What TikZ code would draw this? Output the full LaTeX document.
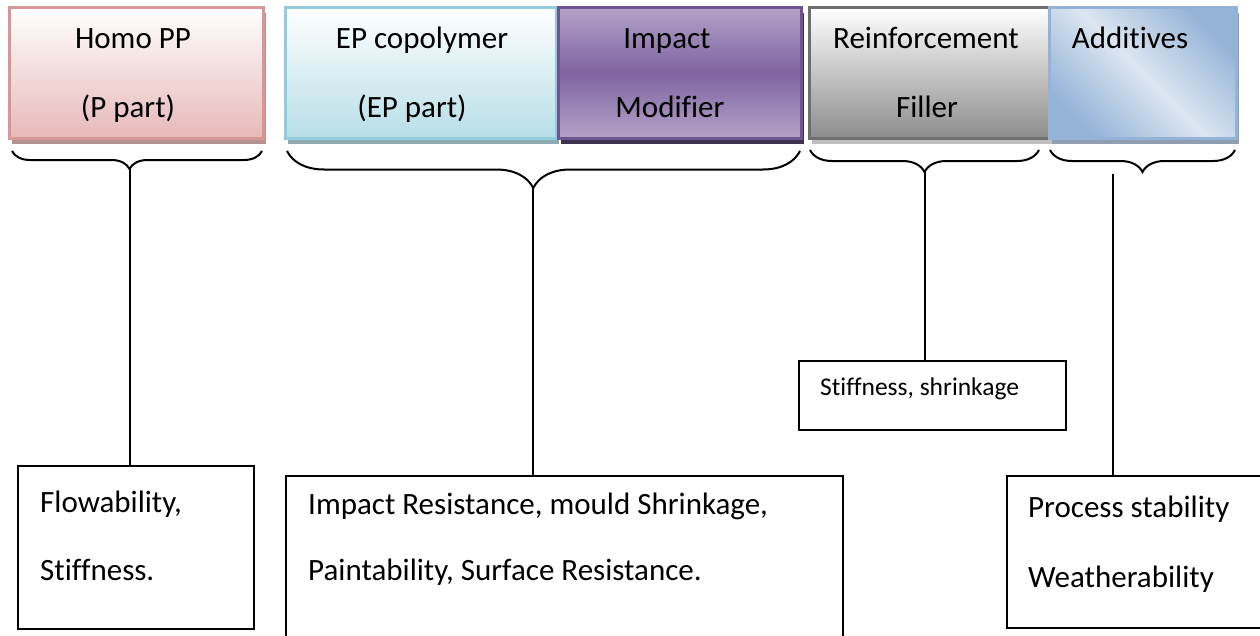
\documentclass[tikz,border=0pt]{standalone}
\usepackage{fontspec}
\setmainfont{Carlito}[Ligatures=NoCommon]
\usetikzlibrary{decorations.pathreplacing}
\usetikzlibrary{shadows}

\definecolor{homoline}{HTML}{D99694}
\definecolor{homofill}{HTML}{E6B9B8}
\definecolor{homoshade}{HTML}{B39392}
\definecolor{epline}{HTML}{93CDDD}
\definecolor{epfill}{HTML}{B7DEE8}
\definecolor{epshade}{HTML}{8FABB2}
\definecolor{modline}{HTML}{6E5590}
\definecolor{modlight}{HTML}{B3A2C7}
\definecolor{moddark}{HTML}{8064A2}
\definecolor{modshade}{HTML}{3F3151}
\definecolor{fillline}{HTML}{6F6F6F}
\definecolor{fillgray}{HTML}{8C8C8C}
\definecolor{fillshade}{HTML}{BFBFBF}
\definecolor{addline}{HTML}{95B3D7}
\definecolor{addlight}{HTML}{DCE6F2}
\definecolor{addshade}{HTML}{8E9EB3}

\begin{document}
\begin{tikzpicture}[x=1pt, y=1pt]
                \tikzstyle{part} = [draw=#1, line width=2.5pt, rectangle, anchor=north west, minimum height=131pt, inner sep=0pt]
                \tikzstyle{effect} = [draw, line width=1.8pt, rectangle, anchor=north west, inner sep=0pt]
                \tikzstyle{curly} = [decorate, decoration={brace, mirror, amplitude=#1}, line width=2pt]
                \tikzstyle{big} = [inner sep=0pt, font=\fontsize{31}{37}\selectfont]
                \tikzstyle{small} = [inner sep=0pt, font=\fontsize{25.5}{30}\selectfont]
                \useasboundingbox (0, 0) rectangle (1260, -635);
                \fill[white] (0, 0) rectangle (1260, -635);
                \clip (0, 0) rectangle (1260, -635);
                % ingredient boxes
                \node[part=homoline, top color=white, bottom color=homofill, minimum width=254pt,
                      general shadow={fill=homoshade, shadow xshift=3pt, shadow yshift=-6pt}] (homo) at (8, -6) {};
                \node[part=epline, top color=white, bottom color=epfill, minimum width=271pt,
                      general shadow={fill=epshade, shadow xshift=3pt, shadow yshift=-6pt}] (ep) at (284, -6) {};
                \node[part=modline, top color=modlight, bottom color=modlight, middle color=moddark, minimum width=243pt,
                      general shadow={fill=modshade, shadow xshift=3pt, shadow yshift=-6pt}] (mod) at (557, -6) {};
                \node[part=fillline, top color=white, bottom color=fillgray, minimum width=240pt,
                      general shadow={fill=fillshade, shadow xshift=3pt, shadow yshift=-6pt}] (rein) at (808, -6) {};
                \node[part=addline, top color=addline, bottom color=addline, middle color=addlight, shading angle=-45, minimum width=187pt,
                      general shadow={fill=addshade, shadow xshift=3pt, shadow yshift=-6pt}] (add) at (1048, -6) {};
                \node[big, anchor=base] (homoA) at (133, -48) {Homo PP};
                \node[big, anchor=base] (homoB) at (128, -117) {(P part)};
                \node[big, anchor=base] (epA) at (422, -48) {EP copolymer};
                \node[big, anchor=base] (epB) at (412, -117) {(EP part)};
                \node[big, anchor=base] (modA) at (667, -48) {Impact};
                \node[big, anchor=base] (modB) at (670, -117) {Modifier};
                \node[big, anchor=base] (reinA) at (926, -48) {Reinforcement};
                \node[big, anchor=base] (reinB) at (927, -117) {Filler};
                \node[big, anchor=base] (addA) at (1130, -48) {Additives};
                % braces
                \draw[curly=18, decoration={aspect=0.47}] (12, -151) -- (262, -151);
                \draw[curly=37, decoration={aspect=0.48}] (287, -151) -- (800, -151);
                \draw[curly=22] (810, -150) -- (1039, -150);
                \draw[curly=22] (1050, -150) -- (1235, -150);
                \coordinate (tipA) at (129.5, -169);
                \coordinate (tipB) at (533, -188);
                \coordinate (tipC) at (924.5, -172);
                \coordinate (addtop) at (1113, -174);
                % property boxes
                \node[effect, minimum width=236pt, minimum height=163pt] (flow) at (17, -465) {};
                \node[effect, minimum width=557pt, minimum height=200pt] (resist) at (285, -475) {};
                \node[effect, minimum width=267pt, minimum height=69pt] (stiff) at (798, -360) {};
                \node[effect, minimum width=300pt, minimum height=152pt] (proc) at (1006, -475) {};
                \node[big, anchor=base west] (flowA) at (40, -512) {Flowability,};
                \node[big, anchor=base west] (flowB) at (40, -580) {Stiffness.};
                \node[big, anchor=base west] (resA) at (308, -514) {Impact Resistance, mould Shrinkage,};
                \node[big, anchor=base west] (resB) at (308, -580) {Paintability, Surface Resistance.};
                \node[small, anchor=base west] (stiffA) at (820, -395) {Stiffness, shrinkage};
                \node[big, anchor=base west] (procA) at (1028, -517) {Process stability};
                \node[big, anchor=base west] (procB) at (1028, -587) {Weatherability};
                % connectors
                \draw[line width=2pt] (tipA) -- (tipA |- flow.north);
                \draw[line width=2pt] (tipB) -- (tipB |- resist.north);
                \draw[line width=2pt] (tipC) -- (tipC |- stiff.north);
                \draw[line width=2pt] (addtop) -- (addtop |- proc.north);
            \end{tikzpicture}
\end{document}
